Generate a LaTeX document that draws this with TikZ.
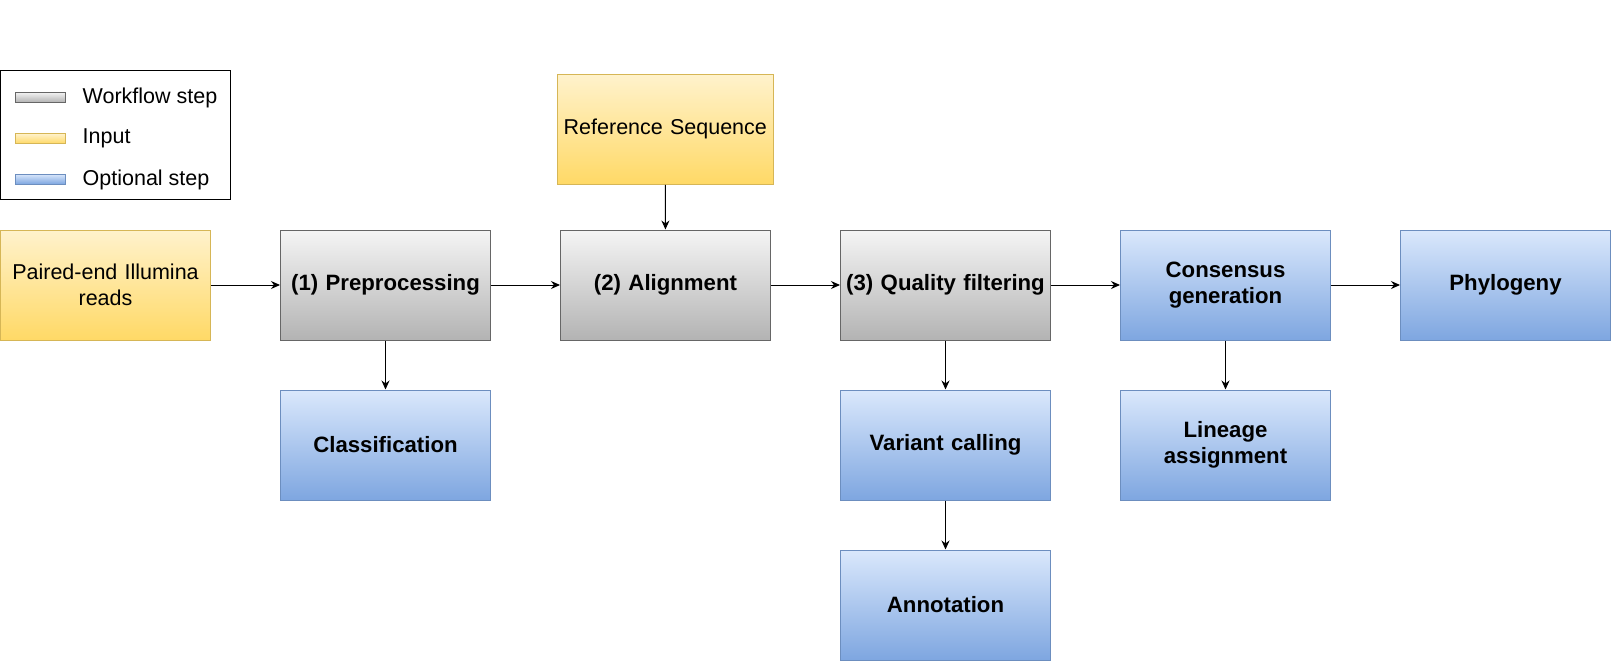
\documentclass[tikz,border=0pt]{standalone}
\usepackage{fontspec}
\setmainfont{Liberation Sans}
\usetikzlibrary{arrows.meta}
\definecolor{grayTop}{HTML}{F5F5F5}
\definecolor{grayBot}{HTML}{B3B3B3}
\definecolor{grayLine}{HTML}{666666}
\definecolor{yelTop}{HTML}{FFF2CC}
\definecolor{yelBot}{HTML}{FFD966}
\definecolor{yelLine}{HTML}{D6B656}
\definecolor{bluTop}{HTML}{DAE8FC}
\definecolor{bluBot}{HTML}{7EA6E0}
\definecolor{bluLine}{HTML}{6C8EBF}
\tikzset{
  box/.style={minimum width=210pt, minimum height=110pt, inner sep=0pt, line width=1pt,
    align=center, font=\fontsize{21.5}{26}\selectfont, text width=206pt},
  workbox/.style={box, draw=grayLine, top color=grayTop, bottom color=grayBot, font=\fontsize{22.2}{26}\selectfont\bfseries},
  inbox/.style={box, draw=yelLine, top color=yelTop, bottom color=yelBot},
  optbox/.style={box, draw=bluLine, top color=bluTop, bottom color=bluBot, font=\fontsize{22.2}{26}\selectfont\bfseries},
  swatch/.style={minimum width=50pt, minimum height=10pt, inner sep=0pt, line width=1pt},
  legtext/.style={anchor=west, inner sep=0pt, font=\fontsize{21.5}{26}\selectfont},
  conn/.style={line width=1pt, -{Stealth[length=9pt, width=8pt]}}
}
\begin{document}
\begin{tikzpicture}[x=1pt, y=-1pt]
\useasboundingbox (0,0) rectangle (1611,661);
% legend
\node[draw=black, line width=1pt, minimum width=230pt, minimum height=129pt, inner sep=0pt] (legend) at (115.5,135) {};
\node[swatch, draw=grayLine, top color=grayTop, bottom color=grayBot] (sw1) at (40,97) {};
\node[swatch, draw=yelLine, top color=yelTop, bottom color=yelBot] (sw2) at (40,138.5) {};
\node[swatch, draw=bluLine, top color=bluTop, bottom color=bluBot] (sw3) at (40,179) {};
\node[legtext] (lt1) at (82.5,97.5) {Workflow step};
\node[legtext] (lt2) at (82.5,138.5) {Input};
\node[legtext] (lt3) at (82.5,179.5) {Optional step};
% boxes
\node[inbox] (reads) at (105.5,285) {Paired-end Illumina\\reads};
\node[workbox] (pre) at (385.5,285) {(1) Preprocessing};
\node[workbox] (align) at (665.5,285) {(2) Alignment};
\node[workbox] (qf) at (945.5,285) {(3) Quality filtering};
\node[optbox] (cons) at (1225.5,285) {Consensus\\generation};
\node[optbox] (phylo) at (1505.5,285) {Phylogeny};
\node[inbox, minimum width=216pt, text width=214pt] (ref) at (665.3,129.3) {Reference Sequence};
\node[optbox] (cls) at (385.5,445) {Classification};
\node[optbox] (var) at (945.5,445) {Variant calling};
\node[optbox] (lin) at (1225.5,445) {Lineage\\assignment};
\node[optbox] (ann) at (945.5,605) {Annotation};
% connectors
\draw[conn] (reads) -- (pre);
\draw[conn] (pre) -- (align);
\draw[conn] (align) -- (qf);
\draw[conn] (qf) -- (cons);
\draw[conn] (cons) -- (phylo);
\draw[conn] (ref) -- (align);
\draw[conn] (pre) -- (cls);
\draw[conn] (qf) -- (var);
\draw[conn] (var) -- (ann);
\draw[conn] (cons) -- (lin);
\end{tikzpicture}
\end{document}
